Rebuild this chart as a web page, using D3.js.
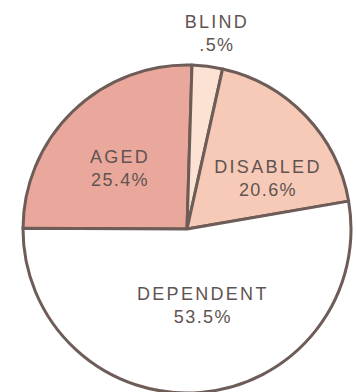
<!DOCTYPE html>
<html><head><meta charset="utf-8">
<script src="https://cdn.jsdelivr.net/npm/d3@7"></script>
<style>html,body{margin:0;padding:0;background:#fff;}svg{display:block;}</style>
</head><body>
<svg id="chart" width="356" height="392"></svg>
<script>
// Data
const categories = ["AGED", "BLIND", "DISABLED", "DEPENDENT"];
const percentLabels = ["25.4%", ".5%", "20.6%", "53.5%"];
// slice sizes as drawn in the picture (share of the circle, %)
const drawnShares = [25.4, 3.0, 18.8, 52.8];

const colors = ["#eaa79c", "#fce2d2", "#f7cab7", "#ffffff"];
const W = 356, H = 392, cx = 187, cy = 229, R = 164;
const startDeg = -89.7;

const svg = d3.select("#chart");
const g = svg.append("g").attr("transform", `translate(${cx},${cy})`);

const pie = d3.pie().sort(null).value(d => d)
  .startAngle(startDeg * Math.PI / 180)
  .endAngle(startDeg * Math.PI / 180 + 2 * Math.PI);
const arcs = pie(drawnShares);
const arc = d3.arc().innerRadius(0).outerRadius(R);

g.selectAll("path.slice").data(arcs).join("path")
  .attr("class", "slice")
  .attr("d", arc)
  .attr("fill", (d, i) => colors[i])
  .attr("stroke", "#6d5c57")
  .attr("stroke-width", 3)
  .attr("stroke-linejoin", "round");

// label layout relative to slice mid-angle; BLIND outside the circle
const labelLayout = [
  {r: 86.7, dAng: -6.6},
  {r: 192.4, dAng: 1.8},
  {r: 92.7, dAng: 14.5},
  {r: 83.5, dAng: -6.2}
];
const lines = svg.append("g")
  .attr("font-family", "'Liberation Sans', Arial, Helvetica, sans-serif")
  .attr("font-size", 18)
  .attr("fill", "#5f5451")
  .attr("text-anchor", "middle");

arcs.forEach((a, i) => {
  const mid = (a.startAngle + a.endAngle) / 2 + labelLayout[i].dAng * Math.PI / 180;
  const x = cx + Math.sin(mid) * labelLayout[i].r;
  const y = cy - Math.cos(mid) * labelLayout[i].r;
  lines.append("text").attr("x", x).attr("y", y - 11)
    .attr("letter-spacing", 2.3).text(categories[i]);
  lines.append("text").attr("x", x).attr("y", y + 12)
    .attr("letter-spacing", 1.4).text(percentLabels[i]);
});
</script>
</body></html>
